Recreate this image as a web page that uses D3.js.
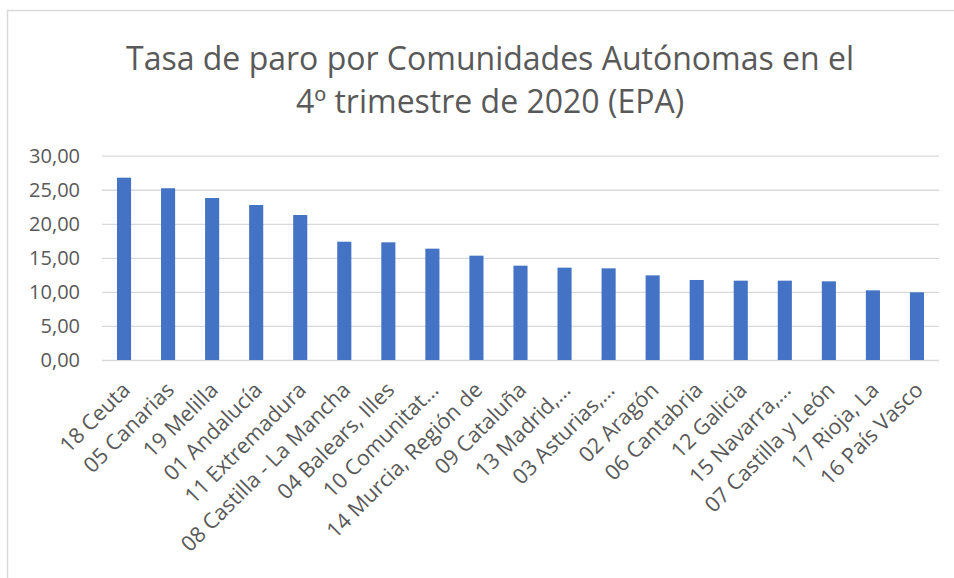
<!DOCTYPE html>
<html>
<head>
<meta charset="utf-8">
<script src="https://cdn.jsdelivr.net/npm/d3@7"></script>
<style>
    body { margin: 0; background: #fff; }
    text { font-family: "Open Sans", sans-serif; fill: #595959; }
</style>
</head>
<body>
<svg id="chart" width="954" height="578"></svg>
<script>
// data
let regions = ["18 Ceuta", "05 Canarias", "19 Melilla", "01 Andalucía", "11 Extremadura",
    "08 Castilla - La Mancha", "04 Balears, Illes", "10 Comunitat…", "14 Murcia, Región de",
    "09 Cataluña", "13 Madrid,…", "03 Asturias,…", "02 Aragón", "06 Cantabria", "12 Galicia",
    "15 Navarra,…", "07 Castilla y León", "17 Rioja, La", "16 País Vasco"];
let rates = [26.77, 25.22, 23.79, 22.76, 21.29, 17.37, 17.28, 16.35, 15.32,
    13.85, 13.56, 13.46, 12.43, 11.75, 11.65, 11.65, 11.55, 10.23, 9.94];
let yTicks = [0, 5, 10, 15, 20, 25, 30];
let titleLines = ["Tasa de paro por Comunidades Autónomas en el", "4º trimestre de 2020 (EPA)"];

let svg = d3.select("#chart");

// outer frame (only top and left edges show)
svg.append("path")
    .attr("d", "M7.5,578 V10.5 H954")
    .attr("fill", "none")
    .attr("stroke", "#d9d9d9")
    .attr("stroke-width", 1.5);

// title
svg.append("g").selectAll("text")
    .data(titleLines)
    .enter().append("text")
    .attr("x", 490)
    .attr("y", (d, i) => 70 + i * 43)
    .attr("text-anchor", "middle")
    .style("font-size", "32px")
    .text(d => d);

let plotLeft = 102, plotRight = 939, plotTop = 155.7, plotBottom = 360;

let xScale = d3.scaleBand()
    .domain(regions)
    .range([plotLeft, plotRight])
    .paddingInner(0.68)
    .paddingOuter(0.34);

let yScale = d3.scaleLinear()
    .domain([0, 30])
    .range([plotBottom, plotTop]);

// gridlines
svg.append("g")
    .attr("transform", "translate(" + plotLeft + ",0)")
    .call(d3.axisLeft(yScale).tickValues(yTicks).tickSize(-(plotRight - plotLeft)).tickFormat(""))
    .call(g => g.select(".domain").remove())
    .selectAll("line")
    .attr("stroke", "#d9d9d9")
    .attr("stroke-width", 1.3);

// y labels
let fmt = d => d3.format(".2f")(d).replace(".", ",");
svg.append("g")
    .attr("transform", "translate(80,0)")
    .call(d3.axisLeft(yScale).tickValues(yTicks).tickSize(0).tickPadding(0).tickFormat(fmt))
    .call(g => g.select(".domain").remove())
    .selectAll("text")
    .style("font-family", "\"Open Sans\", sans-serif")
    .style("font-size", "20px")
    .attr("fill", "#595959");

// bars
svg.append("g").selectAll("rect")
    .data(rates)
    .enter().append("rect")
    .attr("x", (d, i) => xScale(regions[i]))
    .attr("y", d => yScale(d))
    .attr("width", xScale.bandwidth())
    .attr("height", d => plotBottom - yScale(d))
    .attr("fill", "#4472c4");

// category labels, rotated
svg.append("g").selectAll("text")
    .data(regions)
    .enter().append("text")
    .attr("transform", d => "translate(" + (xScale(d) + xScale.bandwidth() / 2 + 2) + ",386) rotate(-45)")
    .attr("text-anchor", "end")
    .attr("dy", "0.35em")
    .style("font-size", "21.5px")
    .text(d => d);
</script>
</body>
</html>
